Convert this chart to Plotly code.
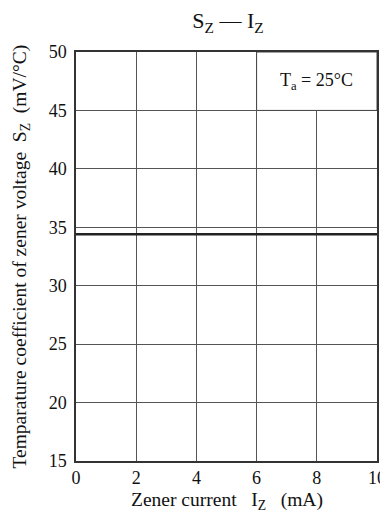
import plotly.graph_objects as go

current_ma = [0, 10]
sz_mv = [34.4, 34.4]
x_ticks = [0, 2, 4, 6, 8, 10]
y_ticks = [15, 20, 25, 30, 35, 40, 45, 50]
legend_box_x = [6, 10]
legend_box_y = [45, 50]

FONT = "Liberation Serif"
NB = "\u00a0"
fig = go.Figure()
fig.add_trace(go.Scatter(x=current_ma, y=sz_mv, mode="lines",
                         line=dict(color="#222", width=2.6), showlegend=False))

fig.add_shape(type="rect", xref="x", yref="y",
              x0=legend_box_x[0], x1=legend_box_x[1], y0=legend_box_y[0], y1=legend_box_y[1],
              fillcolor="white", line=dict(color="#444", width=1), layer="above")
fig.add_annotation(x=(legend_box_x[0] + legend_box_x[1]) / 2,
                   y=(legend_box_y[0] + legend_box_y[1]) / 2,
                   text="T<sub>a</sub> = 25°C", showarrow=False,
                   font=dict(family=FONT, size=18, color="#111"))
# axis titles
fig.add_annotation(xref="paper", yref="paper", x=0.5, y=-0.098,
                   xanchor="center", yanchor="middle", showarrow=False,
                   text=f"Zener current{NB}{NB}{NB}I<sub>Z</sub>{NB}{NB}{NB}(mA)",
                   font=dict(family=FONT, size=19.5, color="#111"))
fig.add_annotation(xref="paper", yref="paper", x=-0.186, y=0.5,
                   xanchor="center", yanchor="middle", showarrow=False, textangle=-90,
                   text=f"Temparature coefficient of zener voltage{NB}{NB}S<sub>Z</sub>{NB}{NB}(mV/°C)",
                   font=dict(family=FONT, size=19.5, color="#111"))

fig.update_layout(
    width=380, height=508,
    margin=dict(l=68, r=11, t=44, b=55),
    paper_bgcolor="white", plot_bgcolor="white",
    title=dict(text=f"S<sub>Z</sub>{NB}—{NB}I<sub>Z</sub>", x=0.579, xanchor="center",
               y=0.975, yanchor="middle",
               font=dict(family=FONT, size=22, color="#111")),
    font=dict(family=FONT, color="#111"),
)
fig.update_xaxes(range=[0, 10], tickvals=x_ticks, showgrid=True, gridcolor="#555",
                 gridwidth=1, zeroline=False, showline=True, linecolor="#333",
                 linewidth=1.5, mirror=True, ticks="", tickfont=dict(size=18),
                 automargin=False)
fig.update_yaxes(range=[15, 50], tickvals=y_ticks, showgrid=True, gridcolor="#555",
                 gridwidth=1, zeroline=False, showline=True, linecolor="#333",
                 linewidth=1.5, mirror=True, ticks="", tickfont=dict(size=18),
                 ticklabelstandoff=4, automargin=False)

fig.write_html("out.html")
